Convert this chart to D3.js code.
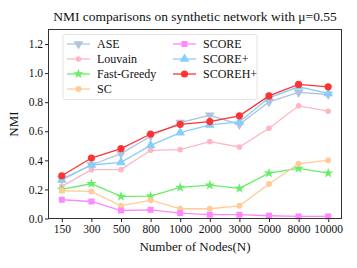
<!DOCTYPE html>
<html><head><meta charset="utf-8">
<script src="https://cdn.jsdelivr.net/npm/d3@7"></script>
<style>body{margin:0;background:#fff}svg{display:block}</style>
</head><body><svg id="c" width="357" height="268"></svg>
<script>
const categories = ["150","300","500","800","1000","2000","3000","5000","8000","10000"];
const yTicks = [0.0,0.2,0.4,0.6,0.8,1.0,1.2];
const ASE      = [0.272,0.368,0.446,0.566,0.660,0.710,0.647,0.802,0.867,0.853];
const Louvain  = [0.221,0.336,0.336,0.469,0.474,0.529,0.492,0.621,0.775,0.738];
const FastGreedy=[0.200,0.239,0.152,0.154,0.214,0.230,0.207,0.312,0.345,0.312];
const SC       = [0.191,0.186,0.087,0.126,0.067,0.067,0.087,0.237,0.377,0.400];
const SCORE    = [0.129,0.117,0.055,0.060,0.037,0.026,0.026,0.019,0.014,0.014];
const SCOREp   = [0.265,0.368,0.386,0.503,0.591,0.644,0.664,0.830,0.906,0.860];
const SCOREHp  = [0.294,0.416,0.481,0.581,0.648,0.667,0.706,0.843,0.922,0.906];

const FONT = "Liberation Serif, DejaVu Serif, Noto Serif, serif";
const series = [
  {name:"ASE", values:ASE, color:"#b0c4de", marker:"tri-down", r:3.2},
  {name:"Louvain", values:Louvain, color:"#ffb6c1", marker:"circle", r:2.8},
  {name:"Fast-Greedy", values:FastGreedy, color:"#66ee66", marker:"star", r:3.2},
  {name:"SC", values:SC, color:"#ffcc99", marker:"circle", r:3.0},
  {name:"SCORE", values:SCORE, color:"#ff88ff", marker:"square", r:3.0},
  {name:"SCORE+", values:SCOREp, color:"#87cefa", marker:"tri-up", r:3.2},
  {name:"SCOREH+", values:SCOREHp, color:"#ff3333", marker:"circle", r:3.6}
];

const svg = d3.select("#c").style("font-family",FONT);
const L=48.5, R=341.5, T=29.5, B=218.5;
const x = d3.scalePoint().domain(categories).range([L,R]).padding(0.45);
const y = d3.scaleLinear().domain([0,1.3]).range([B,T]);

function symbolPath(m, r){
  if(m==="circle") return d3.symbol(d3.symbolCircle, Math.PI*r*r)();
  if(m==="square") return d3.symbol(d3.symbolSquare, (2*r)*(2*r))();
  if(m==="star") return d3.symbol(d3.symbolStar, r*r*3.2)();
  return d3.symbol(d3.symbolTriangle, r*r*4)();
}

// axes
const yAxis = d3.axisLeft(y).tickValues(yTicks).tickFormat(d3.format(".1f")).tickSize(3.5).tickPadding(2);
const gy = svg.append("g").attr("transform",`translate(${L},0)`).call(yAxis);
gy.select(".domain").remove();
gy.attr("font-family",null).attr("font-size",11.5);
gy.selectAll("line").attr("stroke","#222");
gy.selectAll("text").attr("fill","#111").style("font-family",FONT);

const xAxis = d3.axisBottom(x).tickSize(3.5).tickPadding(3);
const gx = svg.append("g").attr("transform",`translate(0,${B})`).call(xAxis);
gx.select(".domain").remove();
gx.attr("font-family",null).attr("font-size",11.5);
gx.selectAll("line").attr("stroke","#222");
gx.selectAll("text").attr("fill","#111").style("font-family",FONT);

// series
const line = d3.line().x((d,i)=>x(categories[i])).y(d=>y(d));
series.forEach(s=>{
  svg.append("path").datum(s.values).attr("d",line).attr("fill","none")
    .attr("stroke",s.color).attr("stroke-width",1.3);
  svg.append("g").selectAll("path").data(s.values).join("path")
    .attr("d",symbolPath(s.marker,s.r))
    .attr("transform",(d,i)=>`translate(${x(categories[i])},${y(d)})${s.marker==="tri-down"?" rotate(180)":""}`)
    .attr("fill",s.color);
});

// frame
svg.append("rect").attr("x",L).attr("y",T).attr("width",R-L).attr("height",B-T)
  .attr("fill","none").attr("stroke","#333").attr("stroke-width",1);

// legend
const lg = svg.append("g");
lg.append("rect").attr("x",63).attr("y",34.5).attr("width",194).attr("height",65)
  .attr("rx",2).attr("fill","#fff").attr("fill-opacity",0.8).attr("stroke","#ddd").attr("stroke-width",0.8);
series.forEach((s,i)=>{
  const col = i<4?0:1, row = i<4?i:i-4;
  const x0 = col===0?67:173, yy = 44+row*15;
  lg.append("line").attr("x1",x0).attr("x2",x0+23).attr("y1",yy).attr("y2",yy)
    .attr("stroke",s.color).attr("stroke-width",1.3);
  lg.append("path").attr("d",symbolPath(s.marker,s.r))
    .attr("transform",`translate(${x0+11.5},${yy})${s.marker==="tri-down"?" rotate(180)":""}`).attr("fill",s.color);
  lg.append("text").attr("x",x0+30).attr("y",yy+4).attr("font-size",12).attr("fill","#111")
    .style("font-family",FONT).text(s.name);
});

// titles
const tg = svg.append("g").attr("fill","#111");
tg.append("text").attr("x",(L+R)/2).attr("y",21).attr("text-anchor","middle").style("font-family",FONT)
  .attr("font-size",13.5).text("NMI comparisons on synthetic network with μ=0.55");
tg.append("text").attr("x",(L+R)/2).attr("y",251).attr("text-anchor","middle").style("font-family",FONT)
  .attr("font-size",13).text("Number of Nodes(N)");
tg.append("text").attr("transform",`translate(18,${(T+B)/2}) rotate(-90)`).attr("text-anchor","middle").style("font-family",FONT)
  .attr("font-size",13).text("NMI");
</script></body></html>
